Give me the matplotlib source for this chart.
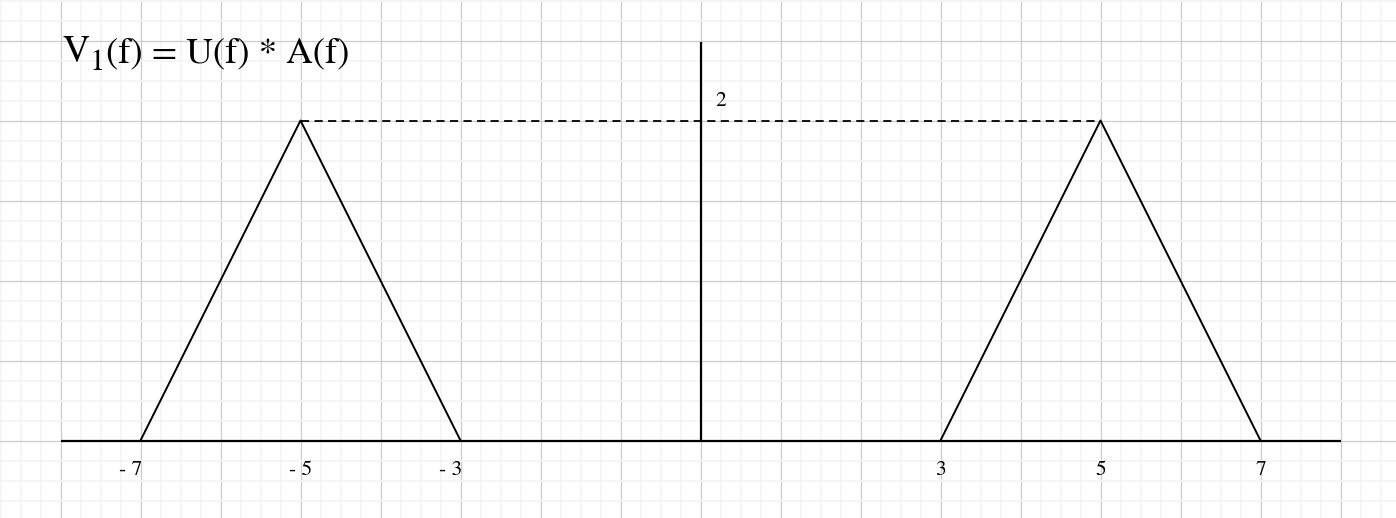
import matplotlib
matplotlib.use("Agg")
import matplotlib.pyplot as plt
from matplotlib.ticker import MultipleLocator

# data
left_tri_x = [-7, -5, -3]
left_tri_y = [0, 2, 0]
right_tri_x = [3, 5, 7]
right_tri_y = [0, 2, 0]
peak_level = 2
tick_values = [-7, -5, -3, 3, 5, 7]
tick_labels = ["- 7", "- 5", "- 3", "3", "5", "7"]
y_label = "2"
title_parts = ["V", "1", "(f) = U(f) * A(f)"]

serif = ['STIXGeneral', 'Liberation Serif', 'DejaVu Serif']

W, H = 1396, 518
fig = plt.figure(figsize=(W / 100, H / 100), dpi=100)
ax = fig.add_axes([0, 0, 1, 1])
x0px, y0px, sx, sy = 700.5, 440.5, 80.0, 160.0
ax.set_xlim((0 - x0px) / sx, (W - x0px) / sx)
ax.set_ylim((y0px - H) / sy, y0px / sy)

# grid
ax.xaxis.set_major_locator(MultipleLocator(1))
ax.xaxis.set_minor_locator(MultipleLocator(0.25))
ax.yaxis.set_major_locator(MultipleLocator(0.5))
ax.yaxis.set_minor_locator(MultipleLocator(0.125))
ax.grid(which='minor', color='#f4f4f4', lw=1.3, zorder=0)
ax.grid(which='major', color='#cccccc', lw=0.9, zorder=1)
ax.tick_params(which='both', length=0, labelbottom=False, labelleft=False)
for s in ax.spines.values():
    s.set_visible(False)
ax.set_axisbelow(True)

# axes lines
ax.plot([-8, 8], [0, 0], color='black', lw=1.6, solid_capstyle='butt', zorder=3)
ax.plot([0, 0], [0, 2.49], color='black', lw=1.6, solid_capstyle='butt', zorder=3)

# triangles
ax.plot(left_tri_x, left_tri_y, color='black', lw=1.4, zorder=4)
ax.plot(right_tri_x, right_tri_y, color='black', lw=1.4, zorder=4)

# dashed line
ax.plot([left_tri_x[1], right_tri_x[1]], [peak_level, peak_level], color='black',
        lw=1.3, dashes=(4.5, 3), zorder=4)

# tick labels
label_dx = [-0.125, 0, -0.125, 0, 0, 0]
for v, lab, dx in zip(tick_values, tick_labels, label_dx):
    ax.text(v + dx, -0.184, lab, ha='center', va='center', fontsize=15.5,
            family=serif, zorder=5)
ax.text(0.256, peak_level + 0.12, y_label, ha='center', va='center', fontsize=15.5,
        family=serif, zorder=5)

# title built from pieces (large, dropped subscript)
renderer = fig.canvas.get_renderer()
t1 = fig.text(62 / W, 1 - 62 / H, title_parts[0], ha='left', va='baseline',
              fontsize=27, family=serif)
bb = t1.get_window_extent(renderer)
t2 = fig.text((bb.x1 + 1) / W, 1 - 70 / H, title_parts[1], ha='left', va='baseline',
              fontsize=22, family=serif)
bb2 = t2.get_window_extent(renderer)
fig.text((bb2.x1 + 1) / W, 1 - 62 / H, title_parts[2], ha='left', va='baseline',
         fontsize=26.5, family=serif)

fig.savefig("out.png", dpi=100)
